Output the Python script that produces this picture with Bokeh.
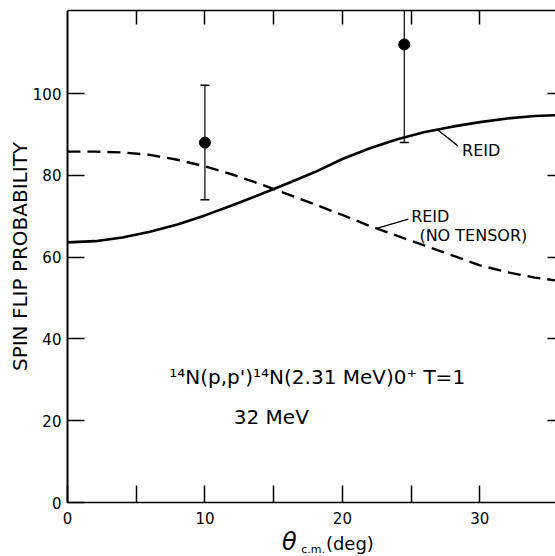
from bokeh.plotting import figure
from bokeh.models import LinearAxis, Range1d, FixedTicker, Label
from bokeh.embed import file_html
from bokeh.resources import INLINE

# ---- data ----
theta = [0, 2, 4, 6, 8, 10, 12, 14, 16, 18, 20, 22, 24, 26, 28, 30, 32, 34, 35.5]
sfp_reid = [63.6, 63.9, 64.8, 66.2, 68.0, 70.2, 72.7, 75.3, 78.0, 80.8, 84.0, 86.6,
            88.8, 90.6, 91.9, 93.0, 93.9, 94.5, 94.7]
sfp_reid_nt = [85.8, 85.8, 85.6, 85.0, 83.8, 82.2, 80.2, 77.9, 75.4, 72.9, 70.3, 67.6,
               65.2, 62.8, 60.4, 58.0, 56.3, 55.0, 54.3]
theta_exp = [10, 24.5]
sfp_exp = [88, 112]
err_lo = [74, 88]
err_hi = [102, 136]

x_ticks = [0, 5, 10, 15, 20, 25, 30]
x_tick_labels = {0: "0", 5: "", 10: "10", 15: "", 20: "20", 25: "", 30: "30"}
y_ticks = [0, 20, 40, 60, 80, 100]
y_tick_labels = {0: "0", 20: "20", 40: "40", 60: "60", 80: "80", 100: "100"}

reaction_text = "\u00b9\u2074N(p,p')\u00b9\u2074N(2.31 MeV)0\u207a T=1"
energy_text = "32 MeV"

# annotation anchors (data coordinates)
reid_label_xy = (28.7, 86.1)
reid_leader_x = [26.9, 28.4]
reid_leader_y = [91.2, 87.2]
nt_label_xy = (25.0, 69.9)
nt_label2_xy = (25.6, 65.3)
nt_leader_x = [24.8, 22.5]
nt_leader_y = [69.3, 67.0]

X_MIN, X_MAX = -4.87, 35.5
Y_MIN, Y_MAX = -13.2, 120.3

FONT = "DejaVu Sans"

p = figure(width=555, height=556, x_range=Range1d(X_MIN, X_MAX), y_range=Range1d(Y_MIN, Y_MAX),
           output_backend="svg", toolbar_location=None,
           min_border_left=0, min_border_right=0, min_border_top=10, min_border_bottom=0)
p.outline_line_color = None
p.background_fill_color = "white"
p.border_fill_color = "white"
p.xgrid.visible = False
p.ygrid.visible = False

# bottom axis, drawn at y = 0 inside the frame
xa = p.xaxis[0]
xa.fixed_location = 0
xa.bounds = (0, X_MAX)
xa.ticker = FixedTicker(ticks=x_ticks)
xa.major_label_overrides = x_tick_labels
xa.major_tick_in = 17
xa.major_tick_out = 0
xa.minor_tick_line_color = None
xa.axis_line_width = 1.6
xa.major_tick_line_width = 1.5
xa.major_label_standoff = 9
xa.major_label_text_font = FONT
xa.major_label_text_font_size = "15px"
xa.major_label_text_color = "black"
xa.axis_line_color = "black"

# left axis, drawn at x = 0 inside the frame
ya = p.yaxis[0]
ya.fixed_location = 0
ya.bounds = (0, Y_MAX)
ya.ticker = FixedTicker(ticks=y_ticks)
ya.major_label_overrides = y_tick_labels
ya.major_tick_in = 17
ya.major_tick_out = 0
ya.minor_tick_line_color = None
ya.axis_line_width = 2
ya.major_tick_line_width = 1.5
ya.major_label_standoff = 6
ya.major_label_text_font = FONT
ya.major_label_text_font_size = "15px"
ya.major_label_text_color = "black"
ya.axis_label = "SPIN FLIP PROBABILITY"
ya.axis_label_text_font = FONT
ya.axis_label_text_font_style = "normal"
ya.axis_label_text_font_size = "20px"
ya.axis_label_text_color = "black"
ya.axis_label_standoff = -2

# top axis (ticks only)
top = LinearAxis(ticker=FixedTicker(ticks=x_ticks[1:]),
                 major_label_overrides={t: "" for t in x_ticks[1:]},
                 bounds=(0, X_MAX),
                 major_tick_in=14, major_tick_out=0, minor_tick_line_color=None,
                 axis_line_width=1.6, major_tick_line_width=1.5, major_label_standoff=0)
p.add_layout(top, "above")

# right axis (ticks only), at the window's right edge
right = LinearAxis(ticker=FixedTicker(ticks=y_ticks[1:]),
                   major_label_overrides={t: "" for t in y_ticks[1:]},
                   fixed_location=X_MAX, bounds=(0, Y_MAX),
                   major_tick_in=8, major_tick_out=0, minor_tick_line_color=None,
                   axis_line_color=None, major_tick_line_width=1.5, major_label_standoff=0)
p.add_layout(right, "right")

# curves
p.line(theta, sfp_reid, line_color="black", line_width=2.6)
p.line(theta, sfp_reid_nt, line_color="black", line_width=2.4, line_dash="13 7")

# error bars and points
p.segment(x0=theta_exp, y0=err_lo, x1=theta_exp, y1=err_hi, line_color="black", line_width=1.2)
p.scatter(theta_exp, err_lo, marker="dash", size=9, line_color="black", line_width=1.5)
p.scatter(theta_exp, err_hi, marker="dash", size=9, line_color="black", line_width=1.5)
p.scatter(theta_exp, sfp_exp, marker="circle", size=11, fill_color="black", line_color="black")

# leaders
p.line(reid_leader_x, reid_leader_y, line_color="black", line_width=1.3)
p.line(nt_leader_x, nt_leader_y, line_color="black", line_width=1.3)

def lab(x, y, text, size, style="normal", align="left"):
    p.add_layout(Label(x=x, y=y, text=text, text_font=FONT, text_font_size=size,
                       text_font_style=style, text_color="black", text_align=align,
                       text_baseline="middle"))

lab(reid_label_xy[0], reid_label_xy[1], "REID", "16px")
lab(nt_label_xy[0], nt_label_xy[1], "REID", "16px")
lab(nt_label2_xy[0], nt_label2_xy[1], "(NO TENSOR)", "16px")
lab(7.4, 30.6, reaction_text, "20px")
lab(12.1, 20.8, energy_text, "20px")

# x-axis title: theta with c.m. subscript
lab(15.6, -9.6, "\u03b8", "24px", style="italic")
lab(17.0, -11.5, "c.m.", "11px")
lab(18.8, -9.9, "(deg)", "18px")

open("out.html", "w").write(file_html(p, INLINE))
